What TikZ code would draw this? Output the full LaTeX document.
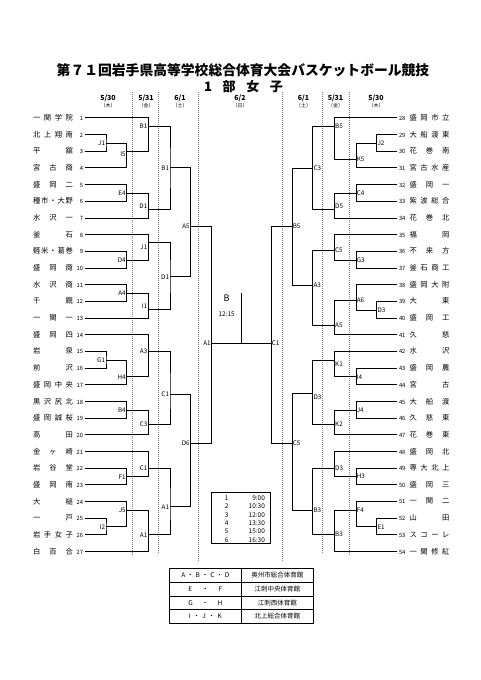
\documentclass[tikz,border=0pt]{standalone}
\usepackage{fontspec}
\setmainfont{Noto Sans CJK JP}

% spread the characters of a name over its box
\def\spr#1{\sprA#1\sprEnd}
\def\sprA#1#2\sprEnd{#1\ifx\relax#2\relax\else\hfill\sprA#2\sprEnd\fi}
\newcommand\teamL[2]{\makebox[40pt][s]{\spr{#1}}\makebox[10pt][r]{\fontsize{5.8}{6}\selectfont #2}}
\newcommand\teamR[2]{\makebox[10.5pt][l]{\fontsize{5.8}{6}\selectfont #1}\makebox[40pt][s]{\spr{#2}}}

\begin{document}
\begin{tikzpicture}[x=1pt,y=-1pt,
    lteam/.style={anchor=east,inner sep=0pt,outer xsep=2pt,font=\fontsize{7.3}{8}\selectfont},
    rteam/.style={anchor=west,inner sep=0pt,outer xsep=2pt,font=\fontsize{7.3}{8}\selectfont},
    lab/.style={inner sep=0.8pt,font=\fontsize{6.3}{7}\selectfont},
    bracket/.style={line width=0.6pt},
    dayline/.style={gray,line width=0.5pt,dash pattern=on 1pt off 1pt},
    day/.style={font=\fontsize{7}{8}\selectfont\bfseries},
    wday/.style={font=\fontsize{5}{6}\selectfont},
    cell/.style={font=\fontsize{6.5}{7}\selectfont,inner sep=0pt}]
    \useasboundingbox (0,0) rectangle (481,680);

    % title
    \node[font=\fontsize{13.8}{16}\selectfont\bfseries] (title) at (243,70) {第７１回岩手県高等学校総合体育大会バスケットボール競技};
    \node[font=\fontsize{13}{14}\selectfont\bfseries] (part) at (243.5,86.7) {\makebox[79pt][s]{1\hfill 部\hfill 女\hfill 子}};

    % days
    \node[day] (d1) at (108,98.5) {5/30};   \node[wday] at (108,106) {（木）};
    \node[day] (d2) at (146,98.5) {5/31};   \node[wday] at (146,106) {（金）};
    \node[day] (d3) at (180,98.5) {6/1};    \node[wday] at (180,106) {（土）};
    \node[day] (d4) at (240,98.5) {6/2};    \node[wday] at (240,106) {（日）};
    \node[day] (d5) at (303.5,98.5) {6/1};  \node[wday] at (303.5,106) {（土）};
    \node[day] (d6) at (335.5,98.5) {5/31}; \node[wday] at (335.5,106) {（金）};
    \node[day] (d7) at (376,98.5) {5/30};   \node[wday] at (376,106) {（木）};
    \draw[dayline] (132.5,92) -- (132.5,555);
    \draw[dayline] (158.5,92) -- (158.5,553);
    \draw[dayline] (198,92) -- (198,562);
    \draw[dayline] (282.5,92) -- (282.5,562);
    \draw[dayline] (322.5,92) -- (322.5,553);
    \draw[dayline] (349.5,92) -- (349.5,555);

    % left teams
    \node[lteam] (t1) at (85,117.7) {\teamL{一関学院}{1}};
    \node[lteam] (t2) at (85,134.4) {\teamL{北上翔南}{2}};
    \node[lteam] (t3) at (85,151.1) {\teamL{平舘}{3}};
    \node[lteam] (t4) at (85,167.7) {\teamL{宮古商}{4}};
    \node[lteam] (t5) at (85,184.4) {\teamL{盛岡二}{5}};
    \node[lteam] (t6) at (85,201.1) {\teamL{種市・大野}{6}};
    \node[lteam] (t7) at (85,217.8) {\teamL{水沢一}{7}};
    \node[lteam] (t8) at (85,234.5) {\teamL{釜石}{8}};
    \node[lteam] (t9) at (85,251.1) {\teamL{軽米・葛巻}{9}};
    \node[lteam] (t10) at (85,267.8) {\teamL{盛岡商}{10}};
    \node[lteam] (t11) at (85,284.5) {\teamL{水沢商}{11}};
    \node[lteam] (t12) at (85,301.2) {\teamL{千厩}{12}};
    \node[lteam] (t13) at (85,317.9) {\teamL{一関一}{13}};
    \node[lteam] (t14) at (85,334.5) {\teamL{盛岡四}{14}};
    \node[lteam] (t15) at (85,351.2) {\teamL{岩泉}{15}};
    \node[lteam] (t16) at (85,367.9) {\teamL{前沢}{16}};
    \node[lteam] (t17) at (85,384.6) {\teamL{盛岡中央}{17}};
    \node[lteam] (t18) at (85,401.3) {\teamL{黒沢尻北}{18}};
    \node[lteam] (t19) at (85,417.9) {\teamL{盛岡誠桜}{19}};
    \node[lteam] (t20) at (85,434.6) {\teamL{高田}{20}};
    \node[lteam] (t21) at (85,451.3) {\teamL{金ヶ崎}{21}};
    \node[lteam] (t22) at (85,468.0) {\teamL{岩谷堂}{22}};
    \node[lteam] (t23) at (85,484.7) {\teamL{盛岡南}{23}};
    \node[lteam] (t24) at (85,501.3) {\teamL{大槌}{24}};
    \node[lteam] (t25) at (85,518.0) {\teamL{一戸}{25}};
    \node[lteam] (t26) at (85,534.7) {\teamL{岩手女子}{26}};
    \node[lteam] (t27) at (85,551.4) {\teamL{白百合}{27}};

    % right teams
    \node[rteam] (t28) at (397,117.7) {\teamR{28}{盛岡市立}};
    \node[rteam] (t29) at (397,134.4) {\teamR{29}{大船渡東}};
    \node[rteam] (t30) at (397,151.1) {\teamR{30}{花巻南}};
    \node[rteam] (t31) at (397,167.7) {\teamR{31}{宮古水産}};
    \node[rteam] (t32) at (397,184.4) {\teamR{32}{盛岡一}};
    \node[rteam] (t33) at (397,201.1) {\teamR{33}{紫波総合}};
    \node[rteam] (t34) at (397,217.8) {\teamR{34}{花巻北}};
    \node[rteam] (t35) at (397,234.5) {\teamR{35}{福岡}};
    \node[rteam] (t36) at (397,251.1) {\teamR{36}{不来方}};
    \node[rteam] (t37) at (397,267.8) {\teamR{37}{釜石商工}};
    \node[rteam] (t38) at (397,284.5) {\teamR{38}{盛岡大附}};
    \node[rteam] (t39) at (397,301.2) {\teamR{39}{大東}};
    \node[rteam] (t40) at (397,317.9) {\teamR{40}{盛岡工}};
    \node[rteam] (t41) at (397,334.5) {\teamR{41}{久慈}};
    \node[rteam] (t42) at (397,351.2) {\teamR{42}{水沢}};
    \node[rteam] (t43) at (397,367.9) {\teamR{43}{盛岡農}};
    \node[rteam] (t44) at (397,384.6) {\teamR{44}{宮古}};
    \node[rteam] (t45) at (397,401.3) {\teamR{45}{大船渡}};
    \node[rteam] (t46) at (397,417.9) {\teamR{46}{久慈東}};
    \node[rteam] (t47) at (397,434.6) {\teamR{47}{花巻東}};
    \node[rteam] (t48) at (397,451.3) {\teamR{48}{盛岡北}};
    \node[rteam] (t49) at (397,468.0) {\teamR{49}{専大北上}};
    \node[rteam] (t50) at (397,484.7) {\teamR{50}{盛岡三}};
    \node[rteam] (t51) at (397,501.3) {\teamR{51}{一関二}};
    \node[rteam] (t52) at (397,518.0) {\teamR{52}{山田}};
    \node[rteam] (t53) at (397,534.7) {\teamR{53}{スコーレ}};
    \node[rteam] (t54) at (397,551.4) {\teamR{54}{一関修紅}};

    % left games
    \coordinate[label={[lab]left:J1}] (J1a) at (106,143.3);
    \coordinate[label={[lab,yshift=-3pt]left:I5}] (I5) at (126.7,151.7);
    \coordinate[label={[lab]left:B1}] (B1a) at (148.3,126);
    \coordinate[label={[lab]left:E4}] (E4) at (126.7,193.3);
    \coordinate[label={[lab,yshift=3pt]left:D1}] (D1a) at (148.3,209.3);
    \coordinate[label={[lab]left:B1}] (B1b) at (170,167.7);
    \coordinate[label={[lab]left:D4}] (D4) at (126.7,260);
    \coordinate[label={[lab,yshift=-5pt]left:J1}] (J1b) at (148.3,242.7);
    \coordinate[label={[lab]left:A4}] (A4) at (126.7,293.3);
    \coordinate[label={[lab,yshift=3pt]left:I1}] (I1) at (148.3,309.3);
    \coordinate[label={[lab]left:D1}] (D1b) at (170,276.7);
    \coordinate[label={[lab]left:A5}] (A5a) at (190.7,226.7);
    \coordinate[label={[lab]left:G1}] (G1) at (106,360);
    \coordinate[label={[lab]left:H4}] (H4) at (126.7,376.7);
    \coordinate[label={[lab]left:A3}] (A3a) at (148.3,351.7);
    \coordinate[label={[lab]left:C1}] (C1a) at (170,394);
    \coordinate[label={[lab]left:B4}] (B4) at (126.7,410);
    \coordinate[label={[lab]left:C3}] (C3a) at (148.3,424.5);
    \coordinate[label={[lab]left:F1}] (F1) at (126.7,476.7);
    \coordinate[label={[lab]left:C1}] (C1b) at (148.3,468);
    \coordinate[label={[lab]left:I2}] (I2) at (106,526.7);
    \coordinate[label={[lab]left:J5}] (J5) at (126.7,510);
    \coordinate[label={[lab]left:A1}] (A1a) at (148.3,534.7);
    \coordinate[label={[lab]left:A1}] (A1b) at (170,506.7);
    \coordinate[label={[lab]left:D6}] (D6) at (190.7,443.3);
    \coordinate[label={[lab]left:A1}] (A1c) at (211.7,343.3);

    \draw[bracket] (t2) -| (J1a) |- (t3);
    \draw[bracket] (J1a) -| (I5) |- (t4);
    \draw[bracket] (t1) -| (B1a) |- (I5);
    \draw[bracket] (t5) -| (E4) |- (t6);
    \draw[bracket] (E4) -| (D1a) |- (t7);
    \draw[bracket] (B1a) -| (B1b) |- (D1a);
    \draw[bracket] (t9) -| (D4) |- (t10);
    \draw[bracket] (t8) -| (J1b) |- (D4);
    \draw[bracket] (t11) -| (A4) |- (t12);
    \draw[bracket] (A4) -| (I1) |- (t13);
    \draw[bracket] (J1b) -| (D1b) |- (I1);
    \draw[bracket] (B1b) -| (A5a) |- (D1b);
    \draw[bracket] (t15) -| (G1) |- (t16);
    \draw[bracket] (G1) -| (H4) |- (t17);
    \draw[bracket] (t14) -| (A3a) |- (H4);
    \draw[bracket] (t18) -| (B4) |- (t19);
    \draw[bracket] (B4) -| (C3a) |- (t20);
    \draw[bracket] (A3a) -| (C1a) |- (C3a);
    \draw[bracket] (t22) -| (F1) |- (t23);
    \draw[bracket] (t21) -| (C1b) |- (F1);
    \draw[bracket] (t25) -| (I2) |- (t26);
    \draw[bracket] (t24) -| (J5) |- (I2);
    \draw[bracket] (J5) -| (A1a) |- (t27);
    \draw[bracket] (C1b) -| (A1b) |- (A1a);
    \draw[bracket] (C1a) -| (D6) |- (A1b);
    \draw[bracket] (A5a) -| (A1c) |- (D6);

    % right games
    \coordinate[label={[lab]right:J2}] (J2) at (376.5,143.3);
    \coordinate[label={[lab]right:K5}] (K5) at (355.8,159.3);
    \coordinate[label={[lab]right:B5}] (B5a) at (334.2,126);
    \coordinate[label={[lab]right:C4}] (C4) at (355.8,193.3);
    \coordinate[label={[lab,yshift=3pt]right:D5}] (D5) at (334.2,209.3);
    \coordinate[label={[lab]right:C3}] (C3b) at (312.5,168.3);
    \coordinate[label={[lab]right:G3}] (G3) at (355.8,260);
    \coordinate[label={[lab]right:C5}] (C5a) at (334.2,250.5);
    \coordinate[label={[lab]right:D3}] (D3a) at (376.5,310);
    \coordinate[label={[lab]right:A6}] (A6) at (355.8,300.5);
    \coordinate[label={[lab]right:A5}] (A5b) at (334.2,325);
    \coordinate[label={[lab]right:A3}] (A3b) at (312.5,285);
    \coordinate[label={[lab]right:B5}] (B5b) at (291.8,226.7);
    \coordinate[label={[lab]right:I4}] (I4) at (355.8,376.7);
    \coordinate[label={[lab,yshift=-4pt]right:K1}] (K1) at (334.2,360.5);
    \coordinate[label={[lab]right:J4}] (J4) at (355.8,410);
    \coordinate[label={[lab]right:K2}] (K2) at (334.2,424.5);
    \coordinate[label={[lab,yshift=-4pt]right:D3}] (D3b) at (312.5,393.3);
    \coordinate[label={[lab]right:H3}] (H3) at (355.8,476.7);
    \coordinate[label={[lab]right:D3}] (D3c) at (334.2,468);
    \coordinate[label={[lab]right:E1}] (E1) at (376.5,526.7);
    \coordinate[label={[lab]right:F4}] (F4) at (355.8,510);
    \coordinate[label={[lab]right:B3}] (B3a) at (334.2,534.7);
    \coordinate[label={[lab]right:B3}] (B3b) at (312.5,510);
    \coordinate[label={[lab]right:C5}] (C5b) at (291.8,443.3);
    \coordinate[label={[lab]right:C1}] (C1c) at (270.8,343.3);

    \draw[bracket] (t29) -| (J2) |- (t30);
    \draw[bracket] (J2) -| (K5) |- (t31);
    \draw[bracket] (t28) -| (B5a) |- (K5);
    \draw[bracket] (t32) -| (C4) |- (t33);
    \draw[bracket] (C4) -| (D5) |- (t34);
    \draw[bracket] (B5a) -| (C3b) |- (D5);
    \draw[bracket] (t36) -| (G3) |- (t37);
    \draw[bracket] (t35) -| (C5a) |- (G3);
    \draw[bracket] (t39) -| (D3a) |- (t40);
    \draw[bracket] (t38) -| (A6) |- (D3a);
    \draw[bracket] (A6) -| (A5b) |- (t41);
    \draw[bracket] (C5a) -| (A3b) |- (A5b);
    \draw[bracket] (C3b) -| (B5b) |- (A3b);
    \draw[bracket] (t43) -| (I4) |- (t44);
    \draw[bracket] (t42) -| (K1) |- (I4);
    \draw[bracket] (t45) -| (J4) |- (t46);
    \draw[bracket] (J4) -| (K2) |- (t47);
    \draw[bracket] (K1) -| (D3b) |- (K2);
    \draw[bracket] (t49) -| (H3) |- (t50);
    \draw[bracket] (t48) -| (D3c) |- (H3);
    \draw[bracket] (t52) -| (E1) |- (t53);
    \draw[bracket] (t51) -| (F4) |- (E1);
    \draw[bracket] (F4) -| (B3a) |- (t54);
    \draw[bracket] (D3c) -| (B3b) |- (B3a);
    \draw[bracket] (D3b) -| (C5b) |- (B3b);
    \draw[bracket] (B5b) -| (C1c) |- (C5b);

    % final
    \coordinate (fin) at (241,293.3);
    \draw[bracket] (A1c) -- (C1c);
    \draw[bracket] (fin) -- (fin |- A1c);
    \node[font=\fontsize{9}{10}\selectfont] (court) at (226.7,297.7) {B};
    \node[font=\fontsize{6.5}{7}\selectfont] (tip) at (226.7,314) {12:15};

    % times
    \draw[bracket] (211.7,492.7) rectangle (270,543.3);
    \node[cell] (s1) at (243.3,498.3) {\makebox[10pt]{1}\makebox[33.3pt][r]{9:00}};
    \node[cell] (s2) at (243.3,506.6) {\makebox[10pt]{2}\makebox[33.3pt][r]{10:30}};
    \node[cell] (s3) at (243.3,514.9) {\makebox[10pt]{3}\makebox[33.3pt][r]{12:00}};
    \node[cell] (s4) at (243.3,523.2) {\makebox[10pt]{4}\makebox[33.3pt][r]{13:30}};
    \node[cell] (s5) at (243.3,531.5) {\makebox[10pt]{5}\makebox[33.3pt][r]{15:00}};
    \node[cell] (s6) at (243.3,539.8) {\makebox[10pt]{6}\makebox[33.3pt][r]{16:30}};

    % courts
    \draw[bracket] (169.3,568.3) rectangle (313.3,623.3);
    \draw[bracket] (169.3,582) -- (313.3,582);
    \draw[bracket] (169.3,595.8) -- (313.3,595.8);
    \draw[bracket] (169.3,609.5) -- (313.3,609.5);
    \draw[bracket] (241,568.3) -- (241,623.3);
    \node[cell] (v1) at (205.3,575.2) {\makebox[48pt][s]{\spr{A・B・C・D}}};
    \node[cell] (v2) at (205.3,588.9) {\makebox[34pt][s]{\spr{E・F}}};
    \node[cell] (v3) at (205.3,602.7) {\makebox[34pt][s]{\spr{G・H}}};
    \node[cell] (v4) at (205.3,616.4) {\makebox[33pt][s]{\spr{I・J・K}}};
    \node[cell] (h1) at (277.3,575.2) {奥州市総合体育館};
    \node[cell] (h2) at (277.3,588.9) {江刺中央体育館};
    \node[cell] (h3) at (277.3,602.7) {江刺西体育館};
    \node[cell] (h4) at (277.3,616.4) {北上総合体育館};
\end{tikzpicture}
\end{document}
